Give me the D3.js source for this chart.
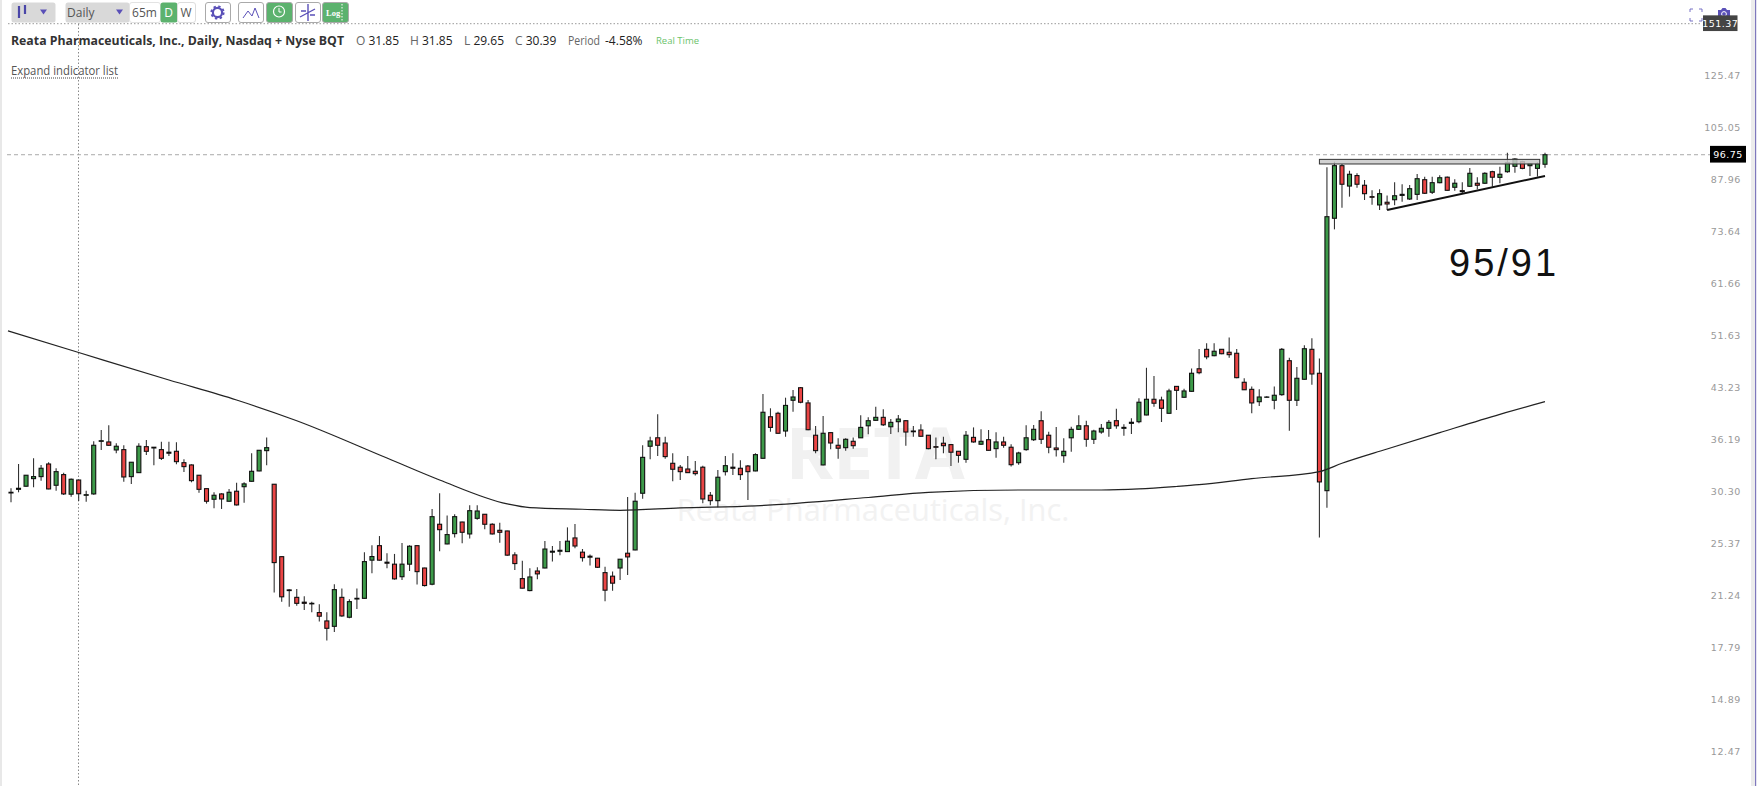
<!DOCTYPE html>
<html>
<head>
<meta charset="utf-8">
<script src="https://cdn.jsdelivr.net/npm/d3@7"></script>
<style>
  html, body { margin: 0; padding: 0; background: #fff; overflow: hidden; }
  svg { display: block; font-family: "Open Sans", sans-serif; }
</style>
</head>
<body>
<div id="chart"></div>
<script>
// daily OHLC, oldest first
const opens = [
  30.47,30.85,31.18,32.0,32.22,33.64,31.28,32.44,30.34,31.85,
  30.23,30.37,36.35,36.27,35.29,35.33,32.22,32.66,35.69,35.62,
  35.33,35.02,35.13,33.79,33.53,32.37,30.92,29.82,30.37,29.62,
  30.65,31.13,31.71,32.85,35.21,31.39,24.51,21.88,21.33,20.98,
  20.9,20.25,19.68,19.32,21.33,19.93,21.21,21.26,24.22,25.45,
  24.05,23.89,22.89,23.89,25.45,23.58,22.31,27.38,25.6,26.52,
  27.59,26.49,27.94,28.33,27.38,26.82,26.76,24.66,22.74,21.83,
  23.34,23.58,24.89,24.97,24.94,26.13,24.89,24.55,24.38,23.21,
  22.93,23.58,24.8,25.08,30.44,35.74,36.79,36.14,33.72,33.27,
  33.07,32.81,33.27,30.23,29.68,32.77,33.27,33.15,33.41,32.85,
  34.3,39.53,40.0,37.65,41.82,43.65,41.44,37.11,33.53,37.44,
  35.86,35.57,36.35,36.79,38.33,39.05,39.45,38.2,38.87,39.0,
  37.65,37.78,37.11,35.69,36.11,35.94,35.13,34.18,36.84,35.99,
  36.55,35.45,36.27,35.62,33.79,35.33,36.55,39.0,37.11,35.53,
  34.61,36.79,37.87,38.33,36.6,37.52,38.0,39.0,38.0,38.65,
  38.87,39.77,41.96,41.86,40.0,43.85,42.25,43.12,46.57,49.77,
  48.7,49.77,49.27,49.1,44.47,43.41,41.62,42.25,41.82,42.63,
  47.87,41.82,44.93,49.77,45.86,30.71,77.87,93.2,86.93,90.1,
  87.17,83.84,81.5,82.25,82.97,84.2,83.17,84.5,88.84,85.11,
  87.94,89.6,86.57,85.57,86.87,87.77,87.77,91.3,89.55,91.3,
  93.0,94.48,93.2,92.35,93.66
];
const highs = [
  30.96,33.64,32.4,34.3,33.53,33.84,33.15,32.66,32.0,31.85,
  30.71,36.35,37.78,38.4,36.11,35.86,33.84,36.11,36.51,35.65,
  36.3,36.3,36.23,34.18,33.6,32.4,30.96,30.54,30.44,30.89,
  31.56,31.6,34.9,35.29,36.84,31.39,24.55,21.93,21.95,21.42,
  21.02,20.84,20.27,22.3,21.98,21.19,21.98,24.89,25.49,26.3,
  24.8,24.74,25.69,25.49,25.49,23.6,28.85,30.44,28.2,28.33,
  27.62,29.22,29.22,28.36,27.47,27.53,26.79,24.89,24.18,23.56,
  23.64,25.86,25.42,25.86,27.09,27.41,25.16,24.69,24.41,23.69,
  23.29,24.32,30.06,30.5,35.86,36.92,39.86,36.92,34.9,33.53,
  34.58,33.99,33.45,30.57,32.96,34.58,34.9,34.06,33.53,34.9,
  42.73,40.69,40.22,42.19,43.31,43.76,41.86,38.3,39.62,37.52,
  36.72,36.72,36.84,39.72,39.45,40.91,40.55,39.22,39.77,39.09,
  38.3,38.52,37.14,36.84,36.92,35.99,35.17,37.65,38.12,37.87,
  37.78,37.49,36.92,35.99,35.09,38.4,38.43,40.27,37.56,38.16,
  36.72,38.2,39.72,39.0,37.82,38.56,39.09,40.63,38.52,39.32,
  42.1,46.73,45.44,42.34,43.5,43.9,43.5,46.63,49.82,50.8,
  50.8,49.77,51.84,49.82,45.08,43.85,43.41,42.4,43.85,49.99,
  48.36,46.84,50.45,51.67,48.25,92.69,94.48,93.74,91.6,90.8,
  88.75,85.68,85.97,84.2,88.06,87.47,87.26,90.6,89.73,89.73,
  90.2,89.8,88.96,88.06,92.45,89.55,91.12,91.6,92.86,97.4,
  95.58,94.8,93.97,94.3,97.4
];
const lows = [
  29.52,30.54,31.13,31.07,31.78,30.85,30.71,30.26,30.09,29.65,
  29.58,30.29,35.29,35.81,34.9,31.67,31.43,32.63,34.69,33.49,
  34.1,34.58,33.6,32.74,31.6,30.5,29.38,28.92,28.85,29.58,
  29.18,29.48,31.67,32.81,33.49,21.68,21.02,20.65,20.73,20.43,
  20.27,19.64,18.4,18.95,19.97,19.86,20.5,21.23,23.17,24.18,
  23.56,22.66,22.64,23.34,22.28,22.13,22.24,24.97,25.58,26.16,
  25.66,26.07,27.81,26.91,26.43,25.71,24.58,23.42,21.98,21.78,
  22.69,23.56,24.1,24.64,24.91,25.23,24.1,23.78,23.58,21.05,
  21.81,22.64,23.03,25.06,29.88,34.18,34.58,34.25,31.71,31.85,
  32.63,32.33,29.42,29.22,29.02,32.33,32.4,31.85,29.75,32.81,
  34.25,37.56,37.31,36.92,40.22,41.4,37.74,34.9,33.49,35.37,
  34.25,35.21,35.45,36.76,37.23,39.0,38.3,37.27,37.49,35.81,
  36.92,36.92,35.37,34.18,34.9,33.41,33.79,33.79,36.18,35.9,
  35.21,34.37,35.57,33.34,33.56,35.21,36.39,36.02,34.9,34.5,
  33.79,35.09,37.78,35.69,36.02,37.31,36.92,37.95,37.05,37.27,
  38.65,39.73,40.91,38.83,39.95,40.45,42.19,43.06,45.71,48.09,
  48.59,48.93,48.36,45.08,43.31,40.0,41.02,42.19,40.55,42.48,
  37.69,41.02,44.87,44.1,26.16,28.98,74.98,80.74,83.84,86.46,
  82.89,81.58,80.1,80.1,81.41,82.41,82.89,82.89,84.62,84.62,
  87.76,85.57,85.57,84.62,86.66,85.97,87.56,86.7,87.77,91.0,
  91.0,92.05,90.0,89.78,92.55
];
const closes = [
  30.54,30.96,32.37,32.22,33.15,30.89,32.77,30.37,31.93,30.39,
  30.29,35.86,36.42,35.86,35.74,32.18,33.84,35.74,35.13,35.53,
  34.3,34.9,33.91,33.34,31.78,30.85,29.62,30.23,29.85,30.54,
  29.25,31.43,32.81,35.25,35.57,24.02,21.37,21.83,20.9,20.9,
  20.86,20.0,19.19,21.9,20.02,21.02,21.26,24.1,24.52,24.22,
  23.97,22.72,23.89,25.4,23.29,22.21,28.1,26.88,26.43,28.1,
  26.64,28.68,28.65,27.38,26.49,26.64,24.64,23.94,22.01,22.87,
  23.11,25.16,24.97,25.05,25.84,25.42,24.43,24.47,23.64,21.86,
  22.39,24.3,24.49,29.62,34.41,36.39,35.86,34.5,33.04,32.77,
  32.66,32.55,29.85,29.68,32.15,33.45,33.15,32.44,32.77,34.73,
  40.14,38.12,37.36,41.09,42.29,41.54,37.82,35.21,37.36,36.14,
  35.5,36.6,35.81,38.12,39.0,39.45,38.46,38.78,39.22,37.52,
  37.56,36.98,35.45,35.62,35.81,35.02,34.65,37.11,36.27,36.35,
  35.25,36.27,35.86,33.56,34.93,36.79,37.87,36.6,35.62,35.33,
  35.13,37.87,38.33,36.6,37.65,38.0,38.78,38.33,38.12,38.79,
  41.54,41.96,41.4,40.69,43.17,43.27,43.17,45.86,45.95,48.51,
  49.44,49.03,48.87,45.18,43.35,41.44,42.29,42.29,42.54,49.77,
  41.82,45.08,49.87,45.75,31.64,78.29,93.2,87.47,90.5,87.47,
  84.7,83.67,84.7,81.77,84.1,84.5,86.15,89.14,84.82,87.94,
  89.44,85.68,87.77,85.28,90.8,87.17,90.8,89.6,90.5,94.16,
  95.35,92.35,93.84,93.84,96.75
];

// moving average, sampled at these candle indexes
const maIndex = [-0.4,9,21,30,38,50,57,66,69,76,81,89,99,114,122,134,145,150,155,158,165,174,177,183,190,198,204];
const maValues = [53.0,49.23,44.82,41.86,39.0,34.33,31.85,29.35,28.98,28.82,28.72,28.95,29.15,30.0,30.54,30.78,30.78,30.89,31.15,31.34,32.0,32.77,33.72,35.41,37.44,39.86,41.62];

const tickValues = [125.47,105.05,87.96,73.64,61.66,51.63,43.23,36.19,30.30,25.37,21.24,17.79,14.89,12.47];
const lastPrice = 96.75;
const topPrice = 151.37;

// drawn annotations: resistance box and rising trendline
const zoneIndex = [174, 203.3];
const zonePrices = [95.23, 93.74];
const trendIndex = [183, 204];
const trendPrices = [80.1, 90.0];

const width = 1757, height = 786;

const svg = d3.select("#chart").append("svg").attr("width", width).attr("height", height);

// the source is a slightly soft screenshot
svg.append("defs").append("filter").attr("id", "soft")
  .attr("x", "-2%").attr("y", "-2%").attr("width", "104%").attr("height", "104%")
  .append("feGaussianBlur").attr("stdDeviation", 0.35);

const x = d3.scaleLinear().domain([0, 204]).range([11, 1545]);
const y = d3.scaleLog().domain([151.37, 12.47]).range([23.7, 754.5]);

// side strips
svg.append("rect").attr("x", 0).attr("y", 0).attr("width", 2).attr("height", height).attr("fill", "#e8e8e8");
svg.append("rect").attr("x", 1751).attr("y", 0).attr("width", 4).attr("height", height).attr("fill", "#ececec");
svg.append("rect").attr("x", 1755).attr("y", 0).attr("width", 1.2).attr("height", height).attr("fill", "#7f78bd");

// watermark
svg.append("text").attr("x", 875).attr("y", 479).attr("text-anchor", "middle")
  .attr("font-size", 72).attr("font-weight", 700).attr("fill", "#f1f1f1").text("RETA");
svg.append("text").attr("x", 873).attr("y", 521).attr("text-anchor", "middle")
  .attr("font-size", 30.8).attr("fill", "#f2f2f2").text("Reata Pharmaceuticals, Inc.");

// crosshair and price guides
svg.append("line").attr("x1", 78.5).attr("x2", 78.5).attr("y1", 24).attr("y2", height)
  .attr("stroke", "#888").attr("stroke-dasharray", "1.5,2");
svg.append("line").attr("x1", 8).attr("x2", 1702).attr("y1", y(topPrice)).attr("y2", y(topPrice))
  .attr("stroke", "#999").attr("stroke-dasharray", "1.5,2");
svg.append("line").attr("x1", 7).attr("x2", 1710).attr("y1", y(lastPrice)).attr("y2", y(lastPrice))
  .attr("stroke", "#aaa").attr("stroke-dasharray", "4,3");

// candles
const candles = opens.map((o, i) => ({ i, o, h: highs[i], l: lows[i], c: closes[i] }));

const g = svg.append("g").attr("filter", "url(#soft)");
g.selectAll(".wick").data(candles).enter().append("line")
  .attr("class", "wick")
  .attr("x1", (d) => x(d.i)).attr("x2", (d) => x(d.i))
  .attr("y1", (d) => y(d.h)).attr("y2", (d) => y(d.l))
  .attr("stroke", "#333").attr("stroke-width", 1.1);
g.selectAll(".body").data(candles).enter().append("rect")
  .attr("class", "body")
  .attr("x", (d) => x(d.i) - 2)
  .attr("width", 4)
  .attr("y", (d) => y(Math.max(d.o, d.c)))
  .attr("height", (d) => Math.abs(y(d.o) - y(d.c)))
  .attr("fill", (d) => (d.c >= d.o ? "#3c9a49" : "#ea4444"))
  .attr("stroke", "#111").attr("stroke-width", 1.1);

// moving average
g.append("path")
  .datum(maIndex.map((d, i) => [d, maValues[i]]))
  .attr("fill", "none").attr("stroke", "#222").attr("stroke-width", 1.2)
  .attr("d", d3.line().x((d) => x(d[0])).y((d) => y(d[1])).curve(d3.curveMonotoneX));

// annotations
svg.append("rect")
  .attr("x", x(zoneIndex[0])).attr("width", x(zoneIndex[1]) - x(zoneIndex[0]))
  .attr("y", y(zonePrices[0])).attr("height", y(zonePrices[1]) - y(zonePrices[0]))
  .attr("fill", "#c9c9c9").attr("fill-opacity", 0.85).attr("stroke", "#333").attr("stroke-width", 1);
svg.append("line")
  .attr("x1", x(trendIndex[0])).attr("x2", x(trendIndex[1]))
  .attr("y1", y(trendPrices[0])).attr("y2", y(trendPrices[1]))
  .attr("stroke", "#111").attr("stroke-width", 2);
svg.append("text").attr("x", 1449).attr("y", 275.5)
  .attr("font-family", "Liberation Sans").attr("font-size", 38).attr("letter-spacing", 3)
  .attr("fill", "#111").text("95/91");

// price axis
const axis = svg.append("g").attr("transform", "translate(1741,0)")
  .call(d3.axisLeft(y).tickValues(tickValues).tickFormat(d3.format(".2f")).tickSize(0).tickPadding(0));
axis.select(".domain").remove();
axis.selectAll("text").attr("dy", 0).attr("font-family", "DejaVu Sans").attr("font-size", 9.5)
  .attr("letter-spacing", 0.6).attr("fill", "#999");

function priceTag(px, w, h, fill, label) {
  svg.append("rect").attr("x", px).attr("y", y(label) - h / 2 - 0.5).attr("width", w).attr("height", h).attr("fill", fill);
  svg.append("text").attr("x", px + w / 2).attr("y", y(label) + 3.5).attr("text-anchor", "middle")
    .attr("font-family", "DejaVu Sans").attr("font-size", 9.5).attr("letter-spacing", 0.5)
    .attr("fill", "#fff").text(d3.format(".2f")(label));
}

// corner icons, then the tags
const frame = "M1690 12v-3h3M1699 9h3v3M1702 18v3h-3M1693 21h-3v-3";
svg.append("path").attr("d", frame).attr("fill", "none").attr("stroke", "#6a62c0").attr("stroke-width", 0.9);
svg.append("path").attr("d", "M1718 19v-9h3l1.5-2h3l1.5 2h3v9z").attr("fill", "#5a50b8");
svg.append("circle").attr("cx", 1724).attr("cy", 14).attr("r", 2.4).attr("fill", "none").attr("stroke", "#fff");
priceTag(1703, 34.5, 15.7, "#444", topPrice);
priceTag(1710, 36, 16.7, "#000", lastPrice);

// toolbar
const bar = svg.append("g");
function box(bx, bw, fill, stroke) {
  bar.append("rect").attr("x", bx + 0.5).attr("y", 2.5).attr("width", bw).attr("height", 20).attr("rx", 2.5)
    .attr("fill", fill).attr("stroke", stroke || "none");
}
box(11, 44, "#d9d9d9");
bar.append("path").attr("d", "M19 6v12M25 5v9").attr("stroke", "#4a46a8").attr("stroke-width", 2.2).attr("fill", "none");
bar.append("path").attr("d", "M40 9.5h7l-3.5 5z").attr("fill", "#5a50b8");
box(65, 64, "#d9d9d9");
bar.append("text").attr("x", 67).attr("y", 17).attr("font-size", 12).attr("fill", "#555").text("Daily");
bar.append("path").attr("d", "M116 9.5h7l-3.5 5z").attr("fill", "#5a50b8");
box(129, 31, "#fff", "#e3e3e3");
bar.append("text").attr("x", 144.5).attr("y", 17).attr("text-anchor", "middle").attr("font-size", 12).attr("fill", "#555").text("65m");
box(160, 17, "#5cb26e");
bar.append("text").attr("x", 168.5).attr("y", 17).attr("text-anchor", "middle").attr("font-size", 12).attr("fill", "#fff").text("D");
box(177, 18, "#fff", "#ddd");
bar.append("text").attr("x", 186).attr("y", 17).attr("text-anchor", "middle").attr("font-size", 12).attr("fill", "#555").text("W");

box(205, 25, "#fff", "#aaa");
bar.append("circle").attr("cx", 217.5).attr("cy", 12.5).attr("r", 4.6).attr("fill", "none").attr("stroke", "#5a50b8").attr("stroke-width", 2.2);
bar.append("circle").attr("cx", 217.5).attr("cy", 12.5).attr("r", 6.2).attr("fill", "none").attr("stroke", "#5a50b8").attr("stroke-width", 1.8).attr("stroke-dasharray", "2.4,2.47");
box(238, 25, "#fff", "#aaa");
bar.append("path").attr("d", "M243 18l5-7 4 5 3-8 4 10").attr("fill", "none").attr("stroke", "#5a50b8").attr("stroke-width", 1);
box(266, 26, "#5cb26e", "#aaa");
bar.append("circle").attr("cx", 279).attr("cy", 11.5).attr("r", 5.5).attr("fill", "none").attr("stroke", "#fff").attr("stroke-width", 1.2);
bar.append("path").attr("d", "M279 8v4h2.5").attr("fill", "none").attr("stroke", "#fff");
box(295, 25, "#fff", "#aaa");
bar.append("path").attr("d", "M308 4v17M300 17l15-8M301 11h5M310 15h5").attr("fill", "none").attr("stroke", "#5a50b8").attr("stroke-width", 1.4);
box(322, 26, "#5cb26e", "#aaa");
bar.append("text").attr("x", 326).attr("y", 16).attr("font-family", "Liberation Serif").attr("font-size", 8.5).attr("font-weight", 700).attr("fill", "#fff").text("Log");
bar.append("path").attr("d", "M342 4v17").attr("stroke", "#fff").attr("stroke-dasharray", "1.5,1.5");

// title row
const head = svg.append("g").attr("font-size", 12);
head.append("text").attr("x", 11).attr("y", 44.5).attr("font-weight", 700).attr("fill", "#333")
  .attr("textLength", 333).attr("lengthAdjust", "spacingAndGlyphs")
  .text("Reata Pharmaceuticals, Inc., Daily, Nasdaq + Nyse BQT");
const ohlcLabels = [["O", "31.85", 356], ["H", "31.85", 410], ["L", "29.65", 464], ["C", "30.39", 515]];
ohlcLabels.forEach((d) => {
  const t = head.append("text").attr("x", d[2]).attr("y", 44.5).attr("fill", "#222");
  t.append("tspan").attr("fill", "#666").text(d[0] + " ");
  t.append("tspan").text(d[1]);
});
head.append("text").attr("x", 568).attr("y", 44.5).attr("fill", "#666")
  .attr("textLength", 32).attr("lengthAdjust", "spacingAndGlyphs").text("Period");
head.append("text").attr("x", 605).attr("y", 44.5).attr("fill", "#222").text("-4.58%");
head.append("text").attr("x", 656).attr("y", 44).attr("font-size", 9.5).attr("fill", "#6cc36c").text("Real Time");

svg.append("text").attr("x", 11).attr("y", 75).attr("font-size", 12).attr("fill", "#555")
  .attr("textLength", 107).attr("lengthAdjust", "spacingAndGlyphs").text("Expand indicator list");
svg.append("line").attr("x1", 11).attr("x2", 118).attr("y1", 78).attr("y2", 78)
  .attr("stroke", "#444").attr("stroke-dasharray", "1,1");
</script>
</body>
</html>
